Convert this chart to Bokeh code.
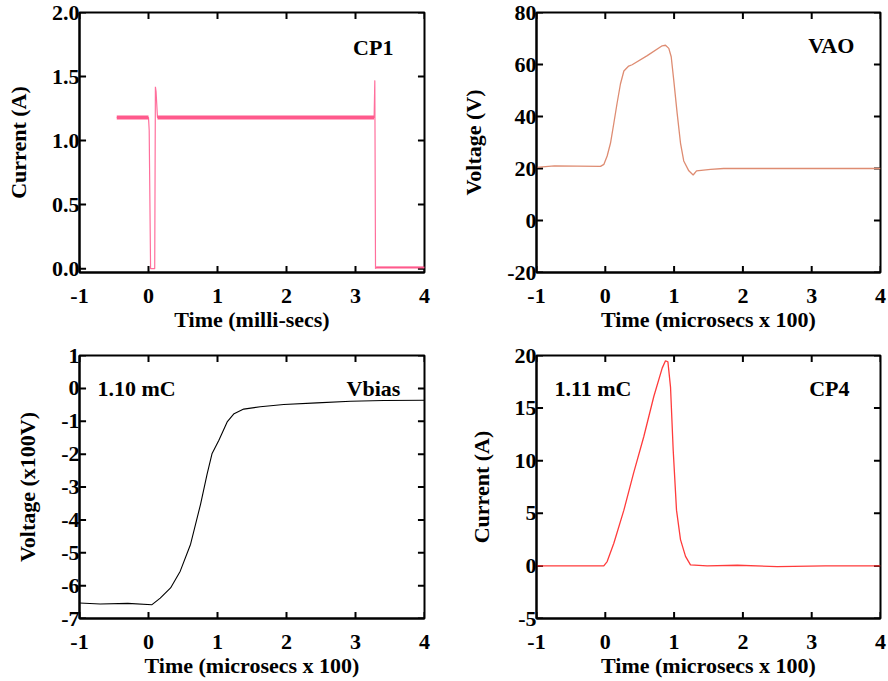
from bokeh.plotting import figure
from bokeh.layouts import column, row
from bokeh.models import FixedTicker, Range1d
from bokeh.core.properties import value
from bokeh.embed import file_html
from bokeh.resources import INLINE

# ---------------- data ----------------
x_ticks = [-1, 0, 1, 2, 3, 4]

# CP1 (milli-secs, A)
cp1_t = [-0.46, 0.00, 0.01, 0.03, 0.09, 0.10, 0.11, 0.13, 1.50, 3.27, 3.28, 3.29, 3.30, 4.00]
cp1_i = [1.18, 1.18, 1.08, 0.00, 0.00, 1.42, 1.38, 1.18, 1.18, 1.18, 1.47, 0.00, 0.01, 0.01]
cp1_band_start = [-0.46, 0.13, 3.30]
cp1_band_end = [0.00, 3.27, 4.00]
cp1_band_level = [1.18, 1.18, 0.01]
cp1_yticks = [0.0, 0.5, 1.0, 1.5, 2.0]
cp1_ylabels = ["0.0", "0.5", "1.0", "1.5", "2.0"]

# VAO (microsecs x 100, V)
vao_t = [-1.00, -0.74, -0.07, -0.02, 0.027, 0.076, 0.124, 0.17, 0.22, 0.27, 0.34, 0.39, 0.61,
         0.827, 0.875, 0.923, 0.958, 0.996, 1.045, 1.093, 1.14, 1.214, 1.277, 1.326, 1.53,
         1.72, 2.50, 3.20, 4.00]
vao_v = [20.4, 21.0, 20.8, 21.6, 24.8, 29.8, 37.4, 44.9, 52.5, 57.5, 59.4, 59.9, 63.4,
         67.2, 67.4, 66.2, 63.0, 53.7, 41.1, 29.8, 22.9, 19.1, 17.5, 19.1, 19.7,
         20.0, 20.0, 20.0, 20.0]
vao_yticks = [-20, 0, 20, 40, 60, 80]
vao_ylabels = ["-20", "0", "20", "40", "60", "80"]

# Vbias (microsecs x 100, x100 V)
vb_t = [-1.00, -0.70, -0.30, 0.051, 0.17, 0.32, 0.46, 0.61, 0.755, 0.85, 0.92, 1.02, 1.14,
        1.24, 1.38, 1.62, 1.96, 2.44, 2.93, 3.41, 4.00]
vb_v = [-6.53, -6.56, -6.54, -6.58, -6.38, -6.07, -5.56, -4.74, -3.52, -2.60, -1.99, -1.58, -1.02,
        -0.77, -0.63, -0.56, -0.49, -0.44, -0.39, -0.37, -0.36]
vb_yticks = [-7, -6, -5, -4, -3, -2, -1, 0, 1]
vb_ylabels = ["-7", "-6", "-5", "-4", "-3", "-2", "-1", "0", "1"]

# CP4 (microsecs x 100, A)
cp4_t = [-1.00, -0.022, 0.027, 0.124, 0.27, 0.41, 0.56, 0.705, 0.827, 0.875, 0.91, 0.948,
         0.987, 1.035, 1.093, 1.166, 1.238, 1.48, 1.92, 2.50, 3.20, 4.00]
cp4_i = [0.0, 0.0, 0.41, 2.15, 5.3, 8.8, 12.3, 16.1, 18.8, 19.5, 19.4, 17.0,
         11.0, 5.3, 2.5, 0.9, 0.1, 0.0, 0.06, -0.06, 0.0, 0.0]
cp4_yticks = [-5, 0, 5, 10, 15, 20]
cp4_ylabels = ["-5", "0", "5", "10", "15", "20"]

FONT = "Liberation Serif"
FS = "22px"
TICK_FRAC_X = 0.019   # inward tick length as a fraction of the frame width
TICK_FRAC_Y = 0.025   # inward tick length as a fraction of the frame height


def make_panel(w, h, bl, br, bt, bb, yr, yticks, ylabels, xlabel, ylabel):
    p = figure(width=w, height=h, output_backend="svg", toolbar_location=None,
               x_range=Range1d(-1, 4), y_range=Range1d(*yr),
               min_border_left=bl, min_border_right=br, min_border_top=bt, min_border_bottom=bb,
               x_axis_label=xlabel, y_axis_label=ylabel)
    p.grid.visible = False
    p.outline_line_color = "black"
    p.outline_line_width = 2
    p.outline_line_alpha = 1
    p.xaxis.ticker = FixedTicker(ticks=x_ticks)
    p.yaxis.ticker = FixedTicker(ticks=yticks)
    p.xaxis.major_label_overrides = {t: str(t) for t in x_ticks}
    p.yaxis.major_label_overrides = {t: s for t, s in zip(yticks, ylabels)}
    for ax in (p.xaxis[0], p.yaxis[0]):
        ax.major_tick_in = 0
        ax.major_tick_out = 0
        ax.minor_tick_line_color = None
        ax.axis_line_width = 2
        ax.major_label_text_font = FONT
        ax.major_label_text_font_style = "bold"
        ax.major_label_text_font_size = FS
        ax.major_label_text_color = "black"
        ax.axis_label_text_font = FONT
        ax.axis_label_text_font_style = "bold"
        ax.axis_label_text_font_size = FS
        ax.axis_label_text_color = "black"
    p.xaxis.major_label_standoff = 16
    p.xaxis.axis_label_standoff = 1
    p.yaxis.major_label_standoff = 0
    p.yaxis.axis_label_standoff = 18
    # inward ticks on all four sides, drawn from the tick lists
    x0, x1 = -1, 4
    y0, y1 = yr
    lx = TICK_FRAC_X * (x1 - x0)
    ly = TICK_FRAC_Y * (y1 - y0)
    n = len(x_ticks)
    m = len(yticks)
    kw = dict(line_color="black", line_width=2)
    p.segment(x0=x_ticks, y0=[y0] * n, x1=x_ticks, y1=[y0 + ly] * n, **kw)
    p.segment(x0=x_ticks, y0=[y1] * n, x1=x_ticks, y1=[y1 - ly] * n, **kw)
    p.segment(x0=[x0] * m, y0=yticks, x1=[x0 + lx] * m, y1=yticks, **kw)
    p.segment(x0=[x1] * m, y0=yticks, x1=[x1 - lx] * m, y1=yticks, **kw)
    return p


def label(p, x, y, txt, align):
    p.text(x=[x], y=[y], text=[txt], text_font=value(FONT), text_font_style="bold",
           text_font_size=FS, text_align=align, text_baseline="middle", text_color="black")


# top-left: CP1
p1 = make_panel(444, 340, 79, 20, 12, 68, (-0.03, 2.0), cp1_yticks, cp1_ylabels,
                "Time (milli-secs)", "Current (A)")
p1.line(cp1_t, cp1_i, line_color="#ff6f9c", line_width=1.2)
p1.segment(x0=cp1_band_start, y0=cp1_band_level, x1=cp1_band_end, y1=cp1_band_level,
           line_color="#ff5a8c", line_width=[4, 4, 2])
label(p1, 3.55, 1.73, "CP1", "right")

# top-right: VAO
p2 = make_panel(444, 340, 92, 8, 12, 68, (-20, 80), vao_yticks, vao_ylabels,
                "Time (microsecs x 100)", "Voltage (V)")
p2.line(vao_t, vao_v, line_color="#de8c72", line_width=1.3)
label(p2, 3.62, 67.5, "VAO", "right")

# bottom-left: Vbias
p3 = make_panel(444, 341, 79, 20, 15, 63, (-7, 1), vb_yticks, vb_ylabels,
                "Time (microsecs x 100)", "Voltage (x100V)")
p3.line(vb_t, vb_v, line_color="black", line_width=1.1)
label(p3, -0.74, 0.0, "1.10 mC", "left")
label(p3, 3.65, 0.0, "Vbias", "right")

# bottom-right: CP4
p4 = make_panel(444, 341, 92, 8, 15, 63, (-5, 20), cp4_yticks, cp4_ylabels,
                "Time (microsecs x 100)", "Current (A)")
p4.line(cp4_t, cp4_i, line_color="#ff3b3b", line_width=1.3)
label(p4, -0.74, 16.9, "1.11 mC", "left")
label(p4, 3.55, 16.9, "CP4", "right")

layout = column(row(p1, p2), row(p3, p4))
open("out.html", "w").write(file_html(layout, INLINE))
